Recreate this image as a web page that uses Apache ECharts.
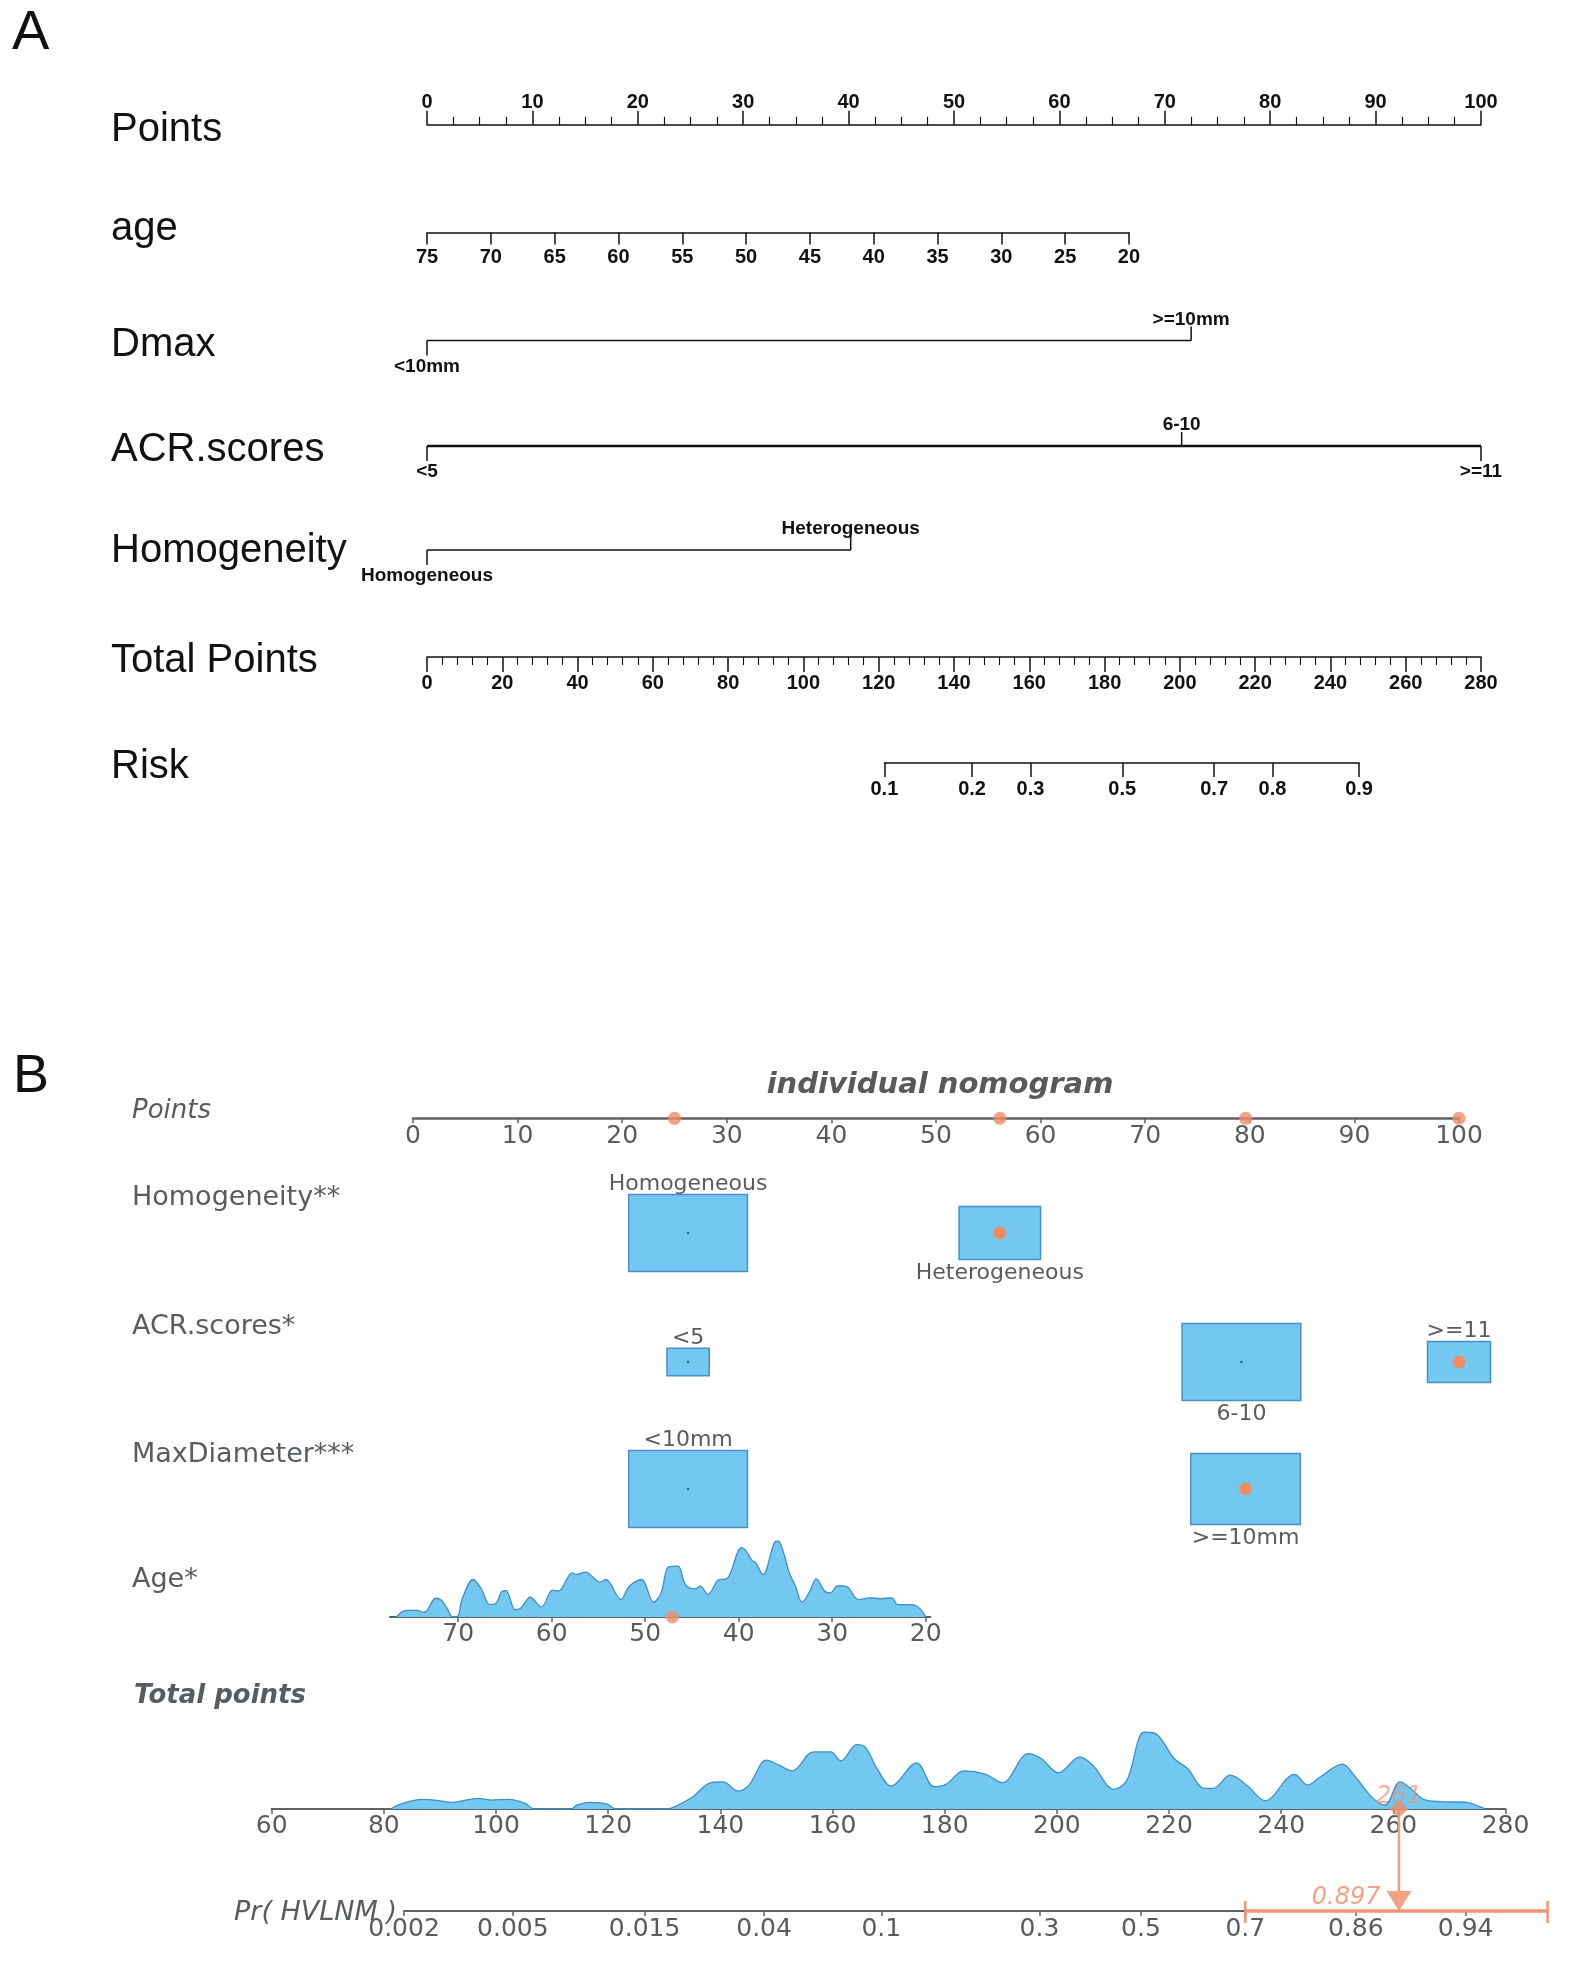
<!DOCTYPE html>
<html><head><meta charset="utf-8">
<script src="https://cdn.jsdelivr.net/npm/echarts@6/dist/echarts.min.js"></script>
<style>html,body{margin:0;padding:0;background:#fff}#c{width:1573px;height:1961px}</style>
</head><body><div id="c"></div>
<script>
// ================= DATA =================
// Panel A (rms nomogram)
const ageRangeA = [20, 75];
const agePointsAt20 = 66.6;            // points given to age 20 (age 75 = 0)
const dmaxLevels = ['<10mm', '>=10mm'];
const dmaxPoints = [0, 72.5];
const acrLevels = ['<5', '6-10', '>=11'];
const acrPoints = [0, 71.6, 100];
const homogLevels = ['Homogeneous', 'Heterogeneous'];
const homogPoints = [0, 40.2];
const totalRangeA = [0, 280];
const riskTickLabels = ['0.1', '0.2', '0.3', '0.5', '0.7', '0.8', '0.9'];
const riskTickTotals = [121.5, 144.8, 160.3, 184.7, 209.1, 224.6, 247.6];

// Panel B (individual nomogram)
const selectedPoints = [25.0, 56.1, 79.6, 100];
const bHomogLevels = ['Homogeneous', 'Heterogeneous'];
const bHomogPoints = [26.3, 56.1];
const bHomogFreq = [0.68, 0.32];
const bHomogSel = 1;
const bAcrLevels = ['<5', '6-10', '>=11'];
const bAcrPoints = [26.3, 79.2, 100];
const bAcrFreq = [0.09, 0.71, 0.20];
const bAcrSel = 2;
const bDiamLevels = ['<10mm', '>=10mm'];
const bDiamPoints = [26.3, 79.6];
const bDiamFreq = [0.54, 0.46];
const bDiamSel = 1;
const ageTicksB = [70, 60, 50, 40, 30, 20];
const ageAxisB = [19.5, 77.3];
const ageSelected = 47.1;
const ageDensity = [
  [76.6,0],[75.9,17],[75.1,20],[74.3,20],[73.8,14],[73.4,17],[72.4,56],[71.8,50],[71.2,27],[70.6,0],
  [70.0,4],[69.6,52],[68.4,112],[67.6,87],[66.6,37],[66.0,40],[65.3,77],[64.9,79],[63.9,22],[63.3,27],
  [62.3,59],[61.1,30],[59.9,80],[59.3,77],[57.8,132],[57.4,127],[56.4,134],[54.8,104],[54.2,112],[52.6,52],
  [51.7,92],[50.4,112],[49.1,44],[48.3,72],[47.5,150],[46.5,152],[45.7,97],[44.7,84],[44.1,92],[43.3,67],
  [42.1,112],[41.3,114],[39.7,207],[39.2,197],[38.6,170],[38.2,162],[37.4,127],[36.2,222],[35.8,227],[35.2,192],
  [34.6,132],[34.0,97],[33.2,44],[32.4,77],[31.7,114],[30.8,77],[30.2,72],[29.4,94],[28.4,90],[27.2,52],
  [26.0,57],[24.8,55],[23.6,57],[23.0,37],[21.4,37],[20.6,24],[20.0,0]
];
const totalAxisB = [60, 280];
const totalDensity = [
  [81.2,0],[83,15],[86.8,29],[89.1,27],[92.2,20],[95.3,29],[96.8,32],[99.1,27],[102.2,29],[105.2,17],
  [106.8,0],[113.4,0],[114.4,12],[116.7,20],[119.8,15],[121.3,0],[130.5,0],[132.1,9],[135.1,37],[138.2,79],
  [140.5,82],[143.1,54],[145.1,72],[148.2,147],[150.5,132],[152.8,115],[156.6,172],[159.7,172],[161.5,145],[164.3,194],
  [165.8,187],[168.1,117],[170.4,69],[175.0,139],[178.1,67],[180.3,75],[183.4,115],[187.2,105],[190.3,79],[194.9,167],
  [197.2,152],[200.3,109],[204.1,157],[206.4,132],[210.2,59],[212.5,87],[215.6,232],[217.9,224],[220.9,152],[223.3,122],
  [226.3,62],[227.9,62],[230.9,102],[234.0,69],[237.1,25],[242.4,104],[244.7,72],[247.0,97],[250.9,135],[253.2,97],
  [256.2,35],[258.5,12],[261.2,82],[263.1,62],[265.4,29],[268.5,22],[273.1,20],[275.4,7],[276.5,0]
];
const totalSelected = 261;
const probSelected = '0.897';
const prTickLabels = ['0.002', '0.005', '0.015', '0.04', '0.1', '0.3', '0.5', '0.7', '0.86', '0.94'];
const prTickTotals = [83.6, 103.0, 126.5, 147.8, 168.7, 196.9, 215.0, 233.6, 253.3, 272.9];
const prInterval = [233.6, 287.5];     // total-points positions of the interval ends

// ================= STYLE / LAYOUT =================
const BLK = '#111';
const GRY = '#575c61';
const AXG = '#5d6267';
const BLUE = '#72C8F0';
const BLUE_E = '#4A8FC6';
const ORG = '#F08C64';
const FA = '"Liberation Sans", Arial, sans-serif';
const FB = '"DejaVu Sans", sans-serif';

const A_L = 427, A_W = 1054;     // panel A points scale 0..100
const B_L = 413, B_W = 1046;     // panel B points scale 0..100
const T_L = 271.7, T_PX = 1233.8 / 220; // panel B total points 60..280

function fmtFrom(vals, labels) {
  return function (v) {
    for (let i = 0; i < vals.length; i++) if (Math.abs(vals[i] - v) < 1e-6) return labels[i];
    return '';
  };
}
function hiddenX(g, min, max) {
  return { gridIndex: g, type: 'value', min: min, max: max, show: false };
}
function hiddenY(g, min, max) {
  return { gridIndex: g, type: 'value', min: min, max: max, show: false };
}

const grids = [];
const xAxes = [];
const yAxes = [];
const series = [];
function addGrid(o) { o.outerBoundsMode = 'none'; o.containLabel = false; grids.push(o); return grids.length - 1; }

// ---------- Panel A ----------
const aLabel = { fontFamily: FA, fontSize: 20, fontWeight: 'bold', color: BLK };
// Points
let g = addGrid({ left: A_L, width: A_W, top: 124.8, height: 20 });
xAxes.push({ gridIndex: g, type: 'value', position: 'top', min: 0, max: 100, interval: 10,
  axisLine: { show: true, onZero: false, lineStyle: { color: BLK, width: 1.5 } },
  axisTick: { show: true, length: 14, lineStyle: { color: BLK, width: 1.5 } },
  minorTick: { show: true, splitNumber: 4, length: 8, lineStyle: { color: BLK, width: 1.2 } },
  axisLabel: Object.assign({ margin: 12 }, aLabel), splitLine: { show: false } });
yAxes.push(hiddenY(g, 0, 1));

// age
g = addGrid({ left: A_L, width: A_W * agePointsAt20 / 100, top: 212.5, height: 20 });
xAxes.push({ gridIndex: g, type: 'value', position: 'bottom', min: ageRangeA[0], max: ageRangeA[1], interval: 5, inverse: true,
  axisLine: { show: true, onZero: false, lineStyle: { color: BLK, width: 1.5 } },
  axisTick: { show: true, length: 12, lineStyle: { color: BLK, width: 1.5 } },
  axisLabel: Object.assign({ margin: 15 }, aLabel), splitLine: { show: false } });
yAxes.push(hiddenY(g, 0, 1));

// categorical rows
function catRow(centerY, levels, pts, lineW) {
  const gi = addGrid({ left: A_L, width: A_W, top: centerY - 30, height: 60 });
  xAxes.push(hiddenX(gi, 0, 100));
  yAxes.push(hiddenY(gi, -1, 1));
  series.push({ type: 'line', xAxisIndex: gi, yAxisIndex: gi, symbol: 'none', silent: true,
    data: [[Math.min.apply(null, pts), 0], [Math.max.apply(null, pts), 0]],
    lineStyle: { color: BLK, width: lineW } });
  series.push({ type: 'custom', xAxisIndex: gi, yAxisIndex: gi, silent: true,
    data: pts.map((p, i) => [p, 0, i]), encode: { x: 0, y: 1 },
    renderItem: function (params, api) {
      const i = api.value(2);
      const c = api.coord([api.value(0), 0]);
      const up = i % 2 === 1;
      return { type: 'group', children: [
        { type: 'line', shape: { x1: c[0], y1: c[1], x2: c[0], y2: c[1] + (up ? -14 : 15) },
          style: { stroke: BLK, lineWidth: 1.5 } },
        { type: 'text', style: { text: levels[i], x: c[0], y: c[1] + (up ? -21 : 26), align: 'center', verticalAlign: 'middle',
          fontFamily: FA, fontSize: 19, fontWeight: 'bold', fill: BLK } }
      ] };
    } });
}
catRow(340.6, dmaxLevels, dmaxPoints, 1.5);
catRow(446, acrLevels, acrPoints, 2.5);
catRow(550, homogLevels, homogPoints, 1.5);

// Total points
g = addGrid({ left: A_L, width: A_W, top: 637, height: 20 });
xAxes.push({ gridIndex: g, type: 'value', position: 'bottom', min: totalRangeA[0], max: totalRangeA[1], interval: 20,
  axisLine: { show: true, onZero: false, lineStyle: { color: BLK, width: 1.5 } },
  axisTick: { show: true, length: 15, lineStyle: { color: BLK, width: 1.5 } },
  minorTick: { show: true, splitNumber: 5, length: 8, lineStyle: { color: BLK, width: 1.1 } },
  axisLabel: Object.assign({ margin: 16 }, aLabel), splitLine: { show: false } });
yAxes.push(hiddenY(g, 0, 1));

// Risk
const rL = A_L + riskTickTotals[0] / totalRangeA[1] * A_W;
const rW = (riskTickTotals[riskTickTotals.length - 1] - riskTickTotals[0]) / totalRangeA[1] * A_W;
g = addGrid({ left: rL, width: rW, top: 743, height: 20 });
xAxes.push({ gridIndex: g, type: 'value', position: 'bottom', min: riskTickTotals[0], max: riskTickTotals[riskTickTotals.length - 1],
  axisLine: { show: true, onZero: false, lineStyle: { color: BLK, width: 1.5 } },
  axisTick: { show: true, length: 14, customValues: riskTickTotals, lineStyle: { color: BLK, width: 1.5 } },
  axisLabel: Object.assign({ margin: 16, customValues: riskTickTotals, formatter: fmtFrom(riskTickTotals, riskTickLabels) }, aLabel),
  splitLine: { show: false } });
yAxes.push(hiddenY(g, 0, 1));

// ---------- Panel B ----------
const bLabel = { fontFamily: FB, fontSize: 25, color: GRY };
// Points
g = addGrid({ left: B_L, width: B_W, top: 1098.3, height: 20 });
xAxes.push({ gridIndex: g, type: 'value', position: 'bottom', min: 0, max: 100, interval: 10,
  axisLine: { show: true, onZero: false, lineStyle: { color: AXG, width: 2.5 } },
  axisTick: { show: true, length: 5, lineStyle: { color: AXG, width: 1.5 } },
  axisLabel: Object.assign({ margin: 6 }, bLabel), splitLine: { show: false } });
yAxes.push(hiddenY(g, 0, 1));
series.push({ type: 'scatter', xAxisIndex: g, yAxisIndex: g, clip: false, silent: true, z: 5,
  symbolSize: 13, itemStyle: { color: ORG }, data: selectedPoints.map(p => [p, 0]) });

function boxRow(centerY, levels, pts, freq, sel) {
  const gi = addGrid({ left: B_L, width: B_W, top: centerY - 50, height: 100 });
  xAxes.push(hiddenX(gi, 0, 100));
  yAxes.push(hiddenY(gi, -1, 1));
  const fmax = Math.max.apply(null, freq);
  series.push({ type: 'custom', xAxisIndex: gi, yAxisIndex: gi, silent: true, clip: false,
    data: pts.map((p, i) => [p, 0, Math.sqrt(freq[i] / fmax), i === sel ? 1 : 0, i]), encode: { x: 0, y: 1 },
    renderItem: function (params, api) {
      const r = api.value(2), s = api.value(3), i = api.value(4);
      const c = api.coord([api.value(0), 0]);
      const w = api.size([11.35 * r, 0])[0];
      const h = 77 * r;
      return { type: 'group', children: [
        { type: 'rect', shape: { x: c[0] - w / 2, y: c[1] - h / 2, width: w, height: h },
          style: { fill: BLUE, stroke: BLUE_E, lineWidth: 1.5 } },
        s ? { type: 'circle', shape: { cx: c[0], cy: c[1], r: 6.5 }, style: { fill: ORG } }
          : { type: 'circle', shape: { cx: c[0], cy: c[1], r: 1.2 }, style: { fill: '#2b5d80' } },
        { type: 'text', style: { text: levels[i], x: c[0], y: (i % 2 === 0) ? c[1] - h / 2 - 10 : c[1] + h / 2 + 13.5,
          align: 'center', verticalAlign: 'middle', fontFamily: FB, fontSize: 22, fill: GRY } }
      ] };
    } });
}
boxRow(1233, bHomogLevels, bHomogPoints, bHomogFreq, bHomogSel);
boxRow(1362, bAcrLevels, bAcrPoints, bAcrFreq, bAcrSel);
boxRow(1489, bDiamLevels, bDiamPoints, bDiamFreq, bDiamSel);

// Age density
const AGE_PX = 9.35, AGE20_X = 925.7;
g = addGrid({ left: AGE20_X - (ageAxisB[1] - 20) * AGE_PX, width: (ageAxisB[1] - ageAxisB[0]) * AGE_PX, top: 1541, height: 76 });
xAxes.push({ gridIndex: g, type: 'value', position: 'bottom', min: ageAxisB[0], max: ageAxisB[1], inverse: true,
  axisLine: { show: true, onZero: false, lineStyle: { color: AXG, width: 2 } },
  axisTick: { show: true, length: 5, customValues: ageTicksB, lineStyle: { color: AXG, width: 1.5 } },
  axisLabel: Object.assign({ margin: 5, customValues: ageTicksB }, bLabel), splitLine: { show: false } });
yAxes.push(hiddenY(g, 0, 227));
series.push({ type: 'line', xAxisIndex: g, yAxisIndex: g, data: ageDensity, smooth: 0.35, symbol: 'none', silent: true,
  lineStyle: { color: '#3f8fc5', width: 1.3 }, areaStyle: { color: BLUE, opacity: 1 } });
series.push({ type: 'scatter', xAxisIndex: g, yAxisIndex: g, clip: false, silent: true, z: 5,
  symbolSize: 13, itemStyle: { color: ORG }, data: [[ageSelected, 0]] });

// Total points density
g = addGrid({ left: T_L, width: (totalAxisB[1] - totalAxisB[0]) * T_PX, top: 1732, height: 77 });
xAxes.push({ gridIndex: g, type: 'value', position: 'bottom', min: totalAxisB[0], max: totalAxisB[1], interval: 20,
  axisLine: { show: true, onZero: false, lineStyle: { color: AXG, width: 2 } },
  axisTick: { show: true, length: 5, lineStyle: { color: AXG, width: 1.5 } },
  axisLabel: Object.assign({ margin: 5 }, bLabel), splitLine: { show: false } });
yAxes.push(hiddenY(g, 0, 232));
series.push({ type: 'line', xAxisIndex: g, yAxisIndex: g, data: totalDensity, smooth: 0.35, symbol: 'none', silent: true,
  lineStyle: { color: '#3f8fc5', width: 1.3 }, areaStyle: { color: BLUE, opacity: 1 } });

// Probability axis
const prMin = prTickTotals[0], prMax = prInterval[1];
g = addGrid({ left: T_L + (prMin - totalAxisB[0]) * T_PX, width: (prMax - prMin) * T_PX, top: 1809, height: 102 });
xAxes.push({ gridIndex: g, type: 'value', position: 'bottom', min: prMin, max: prMax,
  axisLine: { show: true, onZero: false, lineStyle: { color: AXG, width: 2 } },
  axisTick: { show: true, length: 5, customValues: prTickTotals, lineStyle: { color: AXG, width: 1.5 } },
  axisLabel: Object.assign({ margin: 6, customValues: prTickTotals, formatter: fmtFrom(prTickTotals, prTickLabels) }, bLabel),
  splitLine: { show: false } });
yAxes.push(hiddenY(g, 0, 1));
series.push({ type: 'custom', xAxisIndex: g, yAxisIndex: g, silent: true, clip: false, z: 4,
  data: [[prInterval[0], 0, prInterval[1]]], encode: { x: 0, y: 1 },
  renderItem: function (params, api) {
    const a = api.coord([api.value(0), 0]);
    const b = api.coord([api.value(2), 0]);
    const st = { stroke: '#EF9373', lineWidth: 3.5 };
    return { type: 'group', children: [
      { type: 'line', shape: { x1: a[0], y1: a[1], x2: b[0], y2: b[1] }, style: st },
      { type: 'line', shape: { x1: a[0], y1: a[1] - 10, x2: a[0], y2: a[1] + 12 }, style: { stroke: '#EF9373', lineWidth: 2.5 } },
      { type: 'line', shape: { x1: b[0], y1: b[1] - 10, x2: b[0], y2: b[1] + 12 }, style: { stroke: '#EF9373', lineWidth: 2.5 } }
    ] };
  } });
series.push({ type: 'line', xAxisIndex: g, yAxisIndex: g, symbol: 'none', silent: true, z: 4,
  data: [[totalSelected, 1], [totalSelected, 0.19]], lineStyle: { color: '#F0A07F', width: 2.5 } });
series.push({ type: 'scatter', xAxisIndex: g, yAxisIndex: g, clip: false, silent: true, z: 6,
  symbol: 'diamond', symbolSize: [19, 17], itemStyle: { color: ORG },
  data: [[totalSelected, 1]],
  label: { show: true, position: 'inside', offset: [0, -12], formatter: String(totalSelected),
    fontFamily: FB, fontSize: 24, fontStyle: 'italic', color: 'rgba(238,140,105,0.85)' } });
series.push({ type: 'scatter', xAxisIndex: g, yAxisIndex: g, clip: false, silent: true, z: 6,
  symbol: 'triangle', symbolRotate: 180, symbolSize: [25, 20], itemStyle: { color: ORG },
  data: [[totalSelected, 0.098]],
  label: { show: true, position: 'left', distance: 6, offset: [0, -3], formatter: probSelected,
    fontFamily: FB, fontSize: 24, fontStyle: 'italic', color: ORG } });

// ---------- Text ----------
function txt(t, x, y, font, fill, align) {
  return { type: 'text', x: x, y: y, silent: true,
    style: { text: t, font: font, fill: fill, align: align || 'left', verticalAlign: 'middle' } };
}
const fTA = '40px ' + FA;
const fTB = '27px ' + FB;
const graphic = [
  txt('A', 12, 33.5, '56px ' + FA, BLK),
  txt('Points', 111, 129.5, fTA, BLK),
  txt('age', 111, 229, fTA, BLK),
  txt('Dmax', 111, 344.5, fTA, BLK),
  txt('ACR.scores', 111, 450, fTA, BLK),
  txt('Homogeneity', 111, 550.5, fTA, BLK),
  txt('Total Points', 111, 661, fTA, BLK),
  txt('Risk', 111, 766.5, fTA, BLK),
  txt('B', 13, 1077.5, '54px ' + FA, BLK),
  txt('individual nomogram', 940, 1085, 'italic bold 29px ' + FB, '#595959', 'center'),
  txt('Points', 132, 1111.5, 'italic 26px ' + FB, GRY),
  txt('Homogeneity**', 132, 1197.5, fTB, GRY),
  txt('ACR.scores*', 132, 1326.5, fTB, GRY),
  txt('MaxDiameter***', 132, 1454.5, fTB, GRY),
  txt('Age*', 132, 1580, fTB, GRY),
  txt('Total points', 134, 1696, 'italic bold 26px ' + FB, GRY),
  txt('Pr( HVLNM )', 234, 1913, 'italic 27px ' + FB, GRY)
];

const chart = echarts.init(document.getElementById('c'), null, { renderer: 'canvas', width: 1573, height: 1961 });
chart.setOption({
  animation: false,
  backgroundColor: '#fff',
  grid: grids,
  xAxis: xAxes,
  yAxis: yAxes,
  series: series,
  graphic: graphic
});
</script></body></html>
